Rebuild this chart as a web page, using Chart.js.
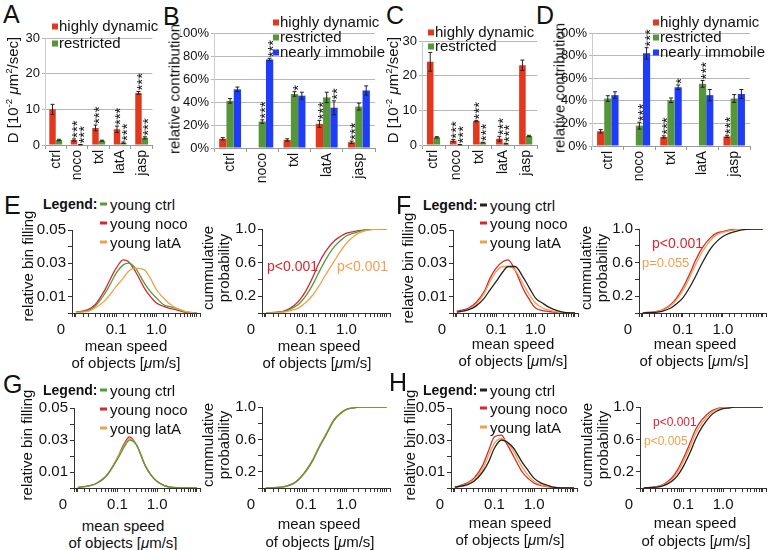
<!DOCTYPE html>
<html>
<head>
<meta charset="utf-8">
<script src="https://cdn.jsdelivr.net/npm/chart.js@4.4.0/dist/chart.umd.min.js"></script>
<style>
  body { margin: 0; background: #fff; }
  #fig { position: relative; width: 768px; height: 550px; overflow: hidden;
         font-family: "Liberation Sans", Arial, Helvetica, sans-serif; color: #111; }
  #fig canvas { position: absolute; }
  .t { position: absolute; white-space: nowrap; line-height: 1; }
  .t sup { font-size: 0.65em; vertical-align: 0.55em; line-height: 0; }
  .sq { display: inline-block; width: 6px; height: 6px; margin-right: 1px; vertical-align: 1px; }
  .dash { display: inline-block; width: 7px; height: 3px; margin-right: 3px; vertical-align: 4px; }
</style>
</head>
<body>
<div id="fig"></div>
<script>
// ---- bar panels A-D ----
const categories = ['ctrl', 'noco', 'txl', 'latA', 'jasp'];

const aHighly = [10.0, 1.4, 4.8, 4.4, 14.6];
const aHighlyErr = [1.4, 0.3, 0.8, 0.9, 0.4];
const aHighlyStars = ['', '***', '***', '***', '***'];
const aRestricted = [1.4, 0.1, 1.2, 0.65, 2.0];
const aRestrictedErr = [0.2, 0.05, 0.15, 0.2, 0.3];
const aRestrictedStars = ['', '***', '', '***', '***'];

const bHighly = [8, 0, 7, 21, 5];
const bHighlyErr = [1, 0, 1, 3, 1];
const bHighlyStars = ['', '', '', '***', '***'];
const bRestricted = [41, 23, 47, 44, 36];
const bRestrictedErr = [2, 1.5, 2, 4.5, 3];
const bRestrictedStars = ['', '***', '*', '', ''];
const bImmobile = [51, 77, 45.5, 35, 50];
const bImmobileErr = [2, 1, 3, 6, 4];
const bImmobileStars = ['', '***', '', '**', ''];

const cHighly = [24.0, 1.25, 6.9, 1.8, 23.0];
const cHighlyErr = [2.7, 0.3, 0.2, 0.7, 1.5];
const cHighlyStars = ['', '***', '***', '***', ''];
const cRestricted = [2.2, 0.1, 0.7, 0.4, 2.6];
const cRestrictedErr = [0.2, 0.05, 0.1, 0.1, 0.2];
const cRestrictedStars = ['', '***', '***', '***', ''];

const dHighly = [13, 0, 8, 0, 8.5];
const dHighlyErr = [1.5, 0, 1, 0, 1];
const dHighlyStars = ['', '', '***', '', '***'];
const dRestricted = [42, 18, 40.5, 55, 42];
const dRestrictedErr = [2.5, 3, 2, 3, 3.5];
const dRestrictedStars = ['', '***', '', '***', ''];
const dImmobile = [45, 82, 52, 45, 46];
const dImmobileErr = [3, 5, 2, 5, 4];
const dImmobileStars = ['', '***', '*', '', ''];

// ---- speed distributions E-H ----
const speedBins = [0.01, 0.02, 0.03, 0.05, 0.07, 0.1, 0.15, 0.2, 0.3, 0.5, 0.7, 1, 1.5, 2, 3, 5, 10];
const speedTicks = ['0.1', '1.0'];
const densityTicks = ['0.01', '0.03', '0.05'];
const cumulTicks = ['0.2', '0.6', '1.0'];

const eDensCtrl = [0.0005, 0.0015, 0.004, 0.011, 0.017, 0.024, 0.029, 0.030, 0.027, 0.018, 0.013, 0.009, 0.005, 0.004, 0.003, 0.001, 0];
const eDensNoco = [0.0005, 0.002, 0.005, 0.013, 0.020, 0.027, 0.032, 0.031, 0.025, 0.015, 0.010, 0.006, 0.004, 0.003, 0.002, 0.0005, 0];
const eDensLatA = [0.0003, 0.001, 0.003, 0.007, 0.011, 0.016, 0.021, 0.025, 0.027, 0.026, 0.021, 0.014, 0.009, 0.006, 0.003, 0.001, 0];
const eCumCtrl = [0.002, 0.008, 0.02, 0.07, 0.12, 0.21, 0.35, 0.47, 0.63, 0.79, 0.86, 0.92, 0.95, 0.97, 0.99, 1.0, 1.0];
const eCumNoco = [0.002, 0.01, 0.03, 0.09, 0.16, 0.27, 0.44, 0.58, 0.73, 0.86, 0.91, 0.95, 0.97, 0.98, 0.99, 1.0, 1.0];
const eCumLatA = [0.001, 0.005, 0.013, 0.04, 0.07, 0.13, 0.22, 0.31, 0.45, 0.62, 0.73, 0.83, 0.91, 0.95, 0.98, 0.995, 1.0];

const fDensCtrl = [0.0005, 0.002, 0.004, 0.009, 0.014, 0.019, 0.025, 0.028, 0.028, 0.021, 0.015, 0.009, 0.006, 0.004, 0.002, 0.0005, 0];
const fDensNoco = [0.001, 0.003, 0.006, 0.013, 0.021, 0.027, 0.031, 0.032, 0.026, 0.014, 0.008, 0.003, 0.0015, 0.001, 0.0005, 0, 0];
const fDensLatA = [0.0005, 0.002, 0.005, 0.012, 0.019, 0.025, 0.028, 0.028, 0.026, 0.017, 0.011, 0.006, 0.003, 0.002, 0.001, 0, 0];
const fCumCtrl = [0.002, 0.008, 0.02, 0.06, 0.11, 0.18, 0.31, 0.42, 0.59, 0.77, 0.85, 0.91, 0.95, 0.97, 0.99, 1.0, 1.0];
const fCumNoco = [0.003, 0.015, 0.035, 0.1, 0.18, 0.3, 0.47, 0.61, 0.77, 0.9, 0.95, 0.97, 0.99, 0.995, 1.0, 1.0, 1.0];
const fCumLatA = [0.002, 0.012, 0.03, 0.09, 0.16, 0.27, 0.43, 0.56, 0.72, 0.87, 0.93, 0.96, 0.98, 0.99, 1.0, 1.0, 1.0];

const gDensCtrl = [0.0003, 0.0015, 0.003, 0.007, 0.012, 0.018, 0.026, 0.030, 0.027, 0.014, 0.008, 0.004, 0.0015, 0.0007, 0.0002, 0, 0];
const gDensNoco = [0.0003, 0.0015, 0.003, 0.007, 0.012, 0.019, 0.028, 0.032, 0.027, 0.014, 0.008, 0.004, 0.0015, 0.0007, 0.0002, 0, 0];
const gDensLatA = [0.0003, 0.0015, 0.003, 0.007, 0.012, 0.019, 0.027, 0.031, 0.027, 0.014, 0.008, 0.004, 0.0015, 0.0007, 0.0002, 0, 0];
const gCumCtrl = [0.001, 0.007, 0.018, 0.06, 0.12, 0.21, 0.35, 0.48, 0.64, 0.84, 0.92, 0.97, 0.99, 1.0, 1.0, 1.0, 1.0];
const gCumNoco = [0.001, 0.008, 0.02, 0.06, 0.12, 0.22, 0.36, 0.49, 0.65, 0.85, 0.92, 0.97, 0.99, 1.0, 1.0, 1.0, 1.0];
const gCumLatA = [0.001, 0.007, 0.019, 0.06, 0.12, 0.21, 0.36, 0.49, 0.65, 0.84, 0.92, 0.97, 0.99, 1.0, 1.0, 1.0, 1.0];

const hDensCtrl = [0.0005, 0.002, 0.004, 0.010, 0.016, 0.025, 0.030, 0.029, 0.025, 0.016, 0.011, 0.006, 0.003, 0.002, 0.0005, 0, 0];
const hDensNoco = [0.0005, 0.003, 0.006, 0.014, 0.023, 0.032, 0.033, 0.028, 0.020, 0.010, 0.006, 0.003, 0.0015, 0.001, 0.0003, 0, 0];
const hDensLatA = [0.0005, 0.0025, 0.005, 0.012, 0.020, 0.028, 0.031, 0.029, 0.023, 0.013, 0.008, 0.004, 0.002, 0.0012, 0.0004, 0, 0];
const hCumCtrl = [0.002, 0.01, 0.025, 0.08, 0.15, 0.27, 0.45, 0.6, 0.76, 0.9, 0.95, 0.98, 0.99, 1.0, 1.0, 1.0, 1.0];
const hCumNoco = [0.002, 0.015, 0.04, 0.12, 0.22, 0.37, 0.57, 0.72, 0.85, 0.95, 0.98, 0.99, 1.0, 1.0, 1.0, 1.0, 1.0];
const hCumLatA = [0.002, 0.012, 0.035, 0.1, 0.19, 0.33, 0.52, 0.67, 0.81, 0.93, 0.97, 0.99, 1.0, 1.0, 1.0, 1.0, 1.0];

const FONT = '"Liberation Sans", Arial, Helvetica, sans-serif';
const RED = '#e4381e', GREEN = '#56963a', BLUE = '#1f3cf8';
const L_GREEN = '#4f9e3c', L_RED = '#d8262f', L_ORANGE = '#f2a04a', L_BLACK = '#222';

const fig = document.getElementById('fig');

// canvas whose chart area lands on area = [x0, y0, x1, y1]
function place(area, pad) {
  const c = document.createElement('canvas');
  c.width = area[2] - area[0] + pad.l + pad.r;
  c.height = area[3] - area[1] + pad.t + pad.b;
  c.style.left = (area[0] - pad.l) + 'px';
  c.style.top = (area[1] - pad.t) + 'px';
  fig.appendChild(c);
  return c;
}

function put(html, x, y, o = {}) {
  const d = document.createElement('div');
  d.className = 't';
  d.innerHTML = html;
  d.style.left = x + 'px';
  d.style.top = y + 'px';
  d.style.fontSize = (o.size || 15) + 'px';
  if (o.color) d.style.color = o.color;
  if (o.bold) d.style.fontWeight = 'bold';
  d.style.transform = (o.left ? 'translate(0,-50%)' : 'translate(-50%,-50%)') + (o.rot ? ' rotate(-90deg)' : '');
  fig.appendChild(d);
}

const errorBars = {
  id: 'errorBars',
  afterDatasetsDraw(chart) {
    const ctx = chart.ctx, y = chart.scales.y;
    chart.data.datasets.forEach((ds, i) => {
      chart.getDatasetMeta(i).data.forEach((bar, j) => {
        const v = ds.data[j], e = ds.errors[j];
        let top = y.getPixelForValue(v);
        if (e) {
          const t = y.getPixelForValue(v + e), b = y.getPixelForValue(Math.max(v - e, 0));
          ctx.save();
          ctx.strokeStyle = '#222';
          ctx.lineWidth = 1;
          ctx.beginPath();
          ctx.moveTo(bar.x, t); ctx.lineTo(bar.x, b);
          ctx.moveTo(bar.x - 2, t); ctx.lineTo(bar.x + 2, t);
          ctx.moveTo(bar.x - 2, b); ctx.lineTo(bar.x + 2, b);
          ctx.stroke();
          ctx.restore();
          top = t;
        }
        if (ds.stars[j]) {
          ctx.save();
          ctx.translate(bar.x, top - 1);
          ctx.rotate(-Math.PI / 2);
          ctx.font = '15px ' + FONT;
          ctx.fillStyle = '#111';
          ctx.textAlign = 'left';
          ctx.textBaseline = 'middle';
          ctx.fillText(ds.stars[j], 0, 4);
          ctx.restore();
        }
      });
    });
  }
};

function barChart(area, pad, datasets, yMax, yStep, pct, catPct) {
  const canvas = place(area, pad);
  new Chart(canvas, {
    type: 'bar',
    data: { labels: categories, datasets },
    options: {
      responsive: false,
      animation: false,
      layout: { padding: { top: pad.t, right: pad.r, left: 0, bottom: 0 } },
      plugins: { legend: { display: false }, tooltip: { enabled: false } },
      datasets: { bar: { categoryPercentage: catPct, barPercentage: 1 } },
      scales: {
        x: {
          grid: { drawOnChartArea: false, tickLength: 4, color: '#999', offset: true },
          border: { color: '#999' },
          ticks: { minRotation: 90, maxRotation: 90, padding: 1, color: '#111', font: { size: 14, family: FONT } },
          afterFit: s => { s.height = pad.b; }
        },
        y: {
          min: 0, max: yMax,
          grid: { color: '#b8b8b8', tickLength: 3 },
          border: { color: '#ccc' },
          ticks: { stepSize: yStep, padding: 2, color: '#111', font: { size: 13, family: FONT },
                   callback: v => pct ? v + '%' : v },
          afterFit: s => { s.width = pad.l; }
        }
      }
    },
    plugins: [errorBars]
  });
}

function bars(label, data, errors, stars, color) {
  return { label, data, errors, stars, backgroundColor: color, borderWidth: 0 };
}

barChart([45, 38, 155, 145], { l: 30, r: 5, t: 10, b: 42 }, [
  bars('highly dynamic', aHighly, aHighlyErr, aHighlyStars, RED),
  bars('restricted', aRestricted, aRestrictedErr, aRestrictedStars, GREEN)
], 30, 10, false, 0.6);

barChart([214, 33, 375, 148], { l: 34, r: 5, t: 10, b: 40 }, [
  bars('highly dynamic', bHighly, bHighlyErr, bHighlyStars, RED),
  bars('restricted', bRestricted, bRestrictedErr, bRestrictedStars, GREEN),
  bars('nearly immobile', bImmobile, bImmobileErr, bImmobileStars, BLUE)
], 100, 20, true, 0.68);

barChart([422, 41, 539, 145], { l: 30, r: 5, t: 10, b: 42 }, [
  bars('highly dynamic', cHighly, cHighlyErr, cHighlyStars, RED),
  bars('restricted', cRestricted, cRestrictedErr, cRestrictedStars, GREEN)
], 30, 10, false, 0.57);

barChart([592, 33, 750, 146], { l: 34, r: 5, t: 10, b: 40 }, [
  bars('highly dynamic', dHighly, dHighlyErr, dHighlyStars, RED),
  bars('restricted', dRestricted, dRestrictedErr, dRestrictedStars, GREEN),
  bars('nearly immobile', dImmobile, dImmobileErr, dImmobileStars, BLUE)
], 100, 20, true, 0.68);

// "0" under the origin of the speed plots
const originZero = {
  id: 'originZero',
  afterDraw(chart) {
    const { ctx, chartArea } = chart;
    ctx.save();
    ctx.font = '15px ' + FONT;
    ctx.fillStyle = '#111';
    ctx.textAlign = 'center';
    ctx.textBaseline = 'middle';
    ctx.fillText('0', chartArea.left - 11, chartArea.bottom + 17);
    ctx.restore();
  }
};

function curve(vals, color) {
  return {
    data: speedBins.map((x, i) => ({ x, y: vals[i] })),
    borderColor: color, borderWidth: 1.3, pointRadius: 0,
    cubicInterpolationMode: 'monotone', fill: false
  };
}

function speedChart(area, sets, yMax, yStep, yLabels, digits) {
  const pad = { l: 42, r: 6, t: 12, b: 28 };
  const canvas = place(area, pad);
  new Chart(canvas, {
    type: 'line',
    data: { datasets: sets },
    options: {
      responsive: false,
      animation: false,
      layout: { padding: { top: pad.t, right: pad.r, left: 0, bottom: 0 } },
      plugins: { legend: { display: false }, tooltip: { enabled: false } },
      scales: {
        x: {
          type: 'logarithmic', min: 0.008, max: 12,
          grid: { drawOnChartArea: false, tickLength: 4, color: '#333' },
          border: { color: '#333' },
          ticks: { autoSkip: false, maxRotation: 0, padding: 4, color: '#111', font: { size: 15, family: FONT },
                   callback: v => speedTicks.find(s => Math.abs(parseFloat(s) - v) < 1e-9) || '' },
          afterFit: s => { s.height = pad.b; }
        },
        y: {
          min: 0, max: yMax,
          grid: { drawOnChartArea: false, tickLength: 4, color: '#333' },
          border: { color: '#333' },
          ticks: { stepSize: yStep, autoSkip: false, padding: 2, color: '#111', font: { size: 15, family: FONT },
                   callback: v => yLabels.includes(v.toFixed(digits)) ? v.toFixed(digits) : '' },
          afterFit: s => { s.width = pad.l; }
        }
      }
    },
    plugins: [originZero]
  });
}

const dens = (area, sets) => speedChart(area, sets, 0.05, 0.01, densityTicks, 2);
const cumul = (area, sets) => speedChart(area, sets, 1, 0.2, cumulTicks, 1);

dens([72, 230, 200, 313], [curve(eDensLatA, L_ORANGE), curve(eDensCtrl, L_GREEN), curve(eDensNoco, L_RED)]);
cumul([262, 229, 390, 313], [curve(eCumLatA, L_ORANGE), curve(eCumCtrl, L_GREEN), curve(eCumNoco, L_RED)]);
dens([453, 230, 578, 313], [curve(fDensCtrl, L_BLACK), curve(fDensLatA, L_ORANGE), curve(fDensNoco, L_RED)]);
cumul([639, 229, 766, 313], [curve(fCumCtrl, L_BLACK), curve(fCumLatA, L_ORANGE), curve(fCumNoco, L_RED)]);
dens([74, 408, 200, 488], [curve(gDensCtrl, L_GREEN), curve(gDensLatA, L_ORANGE), curve(gDensNoco, L_RED)]);
cumul([262, 407, 390, 488], [curve(gCumCtrl, L_GREEN), curve(gCumLatA, L_ORANGE), curve(gCumNoco, L_RED)]);
dens([451, 408, 577, 488], [curve(hDensCtrl, L_BLACK), curve(hDensLatA, L_ORANGE), curve(hDensNoco, L_RED)]);
cumul([640, 407, 766, 488], [curve(hCumCtrl, L_BLACK), curve(hCumLatA, L_ORANGE), curve(hCumNoco, L_RED)]);

// ---- text: panel letters, legends, axis titles ----
[['A', 3, 14], ['B', 163, 16], ['C', 386, 15], ['D', 536, 15],
 ['E', 4, 205], ['F', 396, 205], ['G', 3, 384], ['H', 389, 382]]
  .forEach(([s, x, y]) => put(s, x, y, { size: 25, left: true }));

const sq = c => `<span class="sq" style="background:${c}"></span>`;
put(sq(RED) + 'highly dynamic', 52, 25, { left: true });
put(sq(GREEN) + 'restricted', 52, 42, { left: true });
put(sq(RED) + 'highly dynamic', 273, 21, { left: true });
put(sq(GREEN) + 'restricted', 273, 36, { left: true });
put(sq(BLUE) + 'nearly immobile', 273, 51, { left: true });
put(sq(RED) + 'highly dynamic', 428, 31, { left: true });
put(sq(GREEN) + 'restricted', 428, 45, { left: true });
put(sq(RED) + 'highly dynamic', 653, 21, { left: true });
put(sq(GREEN) + 'restricted', 653, 36, { left: true });
put(sq(BLUE) + 'nearly immobile', 653, 51, { left: true });

const dTitle = 'D [10<sup>-2</sup> <i>μ</i>m<sup>2</sup>/sec]';
put(dTitle, 12, 90, { rot: true });
put('relative contribution', 174, 89, { rot: true });
put(dTitle, 392, 90, { rot: true });
put('relative contribution', 559, 88, { rot: true });

const dash = c => `<span class="dash" style="background:${c}"></span>`;
function speedLegend(x, ctrlColor, rows) {
  put('Legend:', x - 57, rows[0], { bold: true, size: 14, left: true });
  put(dash(ctrlColor) + 'young ctrl', x, rows[0], { left: true });
  put(dash(L_RED) + 'young noco', x, rows[1], { left: true });
  put(dash(L_ORANGE) + 'young latA', x, rows[2], { left: true });
}
speedLegend(100, L_GREEN, [204, 223, 242]);
speedLegend(480, L_BLACK, [205, 223, 242]);
speedLegend(100, L_GREEN, [390, 409, 428]);
speedLegend(480, L_BLACK, [390, 408, 427]);

function speedTitles(dx, dy, cx, cy, bx, by) {
  put('relative bin filling', dx, dy, { rot: true });
  put('mean speed', bx, by);
  put('of objects [<i>μ</i>m/s]', bx, by + 17);
  put('cummulative', cx, cy, { rot: true });
  put('probability', cx + 16, cy, { rot: true });
}
speedTitles(27, 266, 207, 268, 126, 345);
put('mean speed', 319, 345); put('of objects [<i>μ</i>m/s]', 317, 362);
speedTitles(407, 268, 585, 268, 513, 343);
put('mean speed', 695, 343); put('of objects [<i>μ</i>m/s]', 694, 360);
speedTitles(26, 445, 207, 445, 123, 525);
put('mean speed', 319, 523); put('of objects [<i>μ</i>m/s]', 320, 541);
speedTitles(409, 445, 586, 445, 510, 522);
put('mean speed', 695, 522); put('of objects [<i>μ</i>m/s]', 696, 540);

put('p&lt;0.001', 267, 266, { left: true, size: 14, color: L_RED });
put('p&lt;0.001', 337, 266, { left: true, size: 14, color: L_ORANGE });
put('p&lt;0.001', 652, 243, { left: true, size: 14, color: L_RED });
put('p=0.055', 642, 262, { left: true, size: 13, color: L_ORANGE });
put('p&lt;0.001', 653, 422, { left: true, size: 12, color: L_RED });
put('p&lt;0.005', 644, 441, { left: true, size: 12, color: L_ORANGE });
</script>
</body>
</html>
